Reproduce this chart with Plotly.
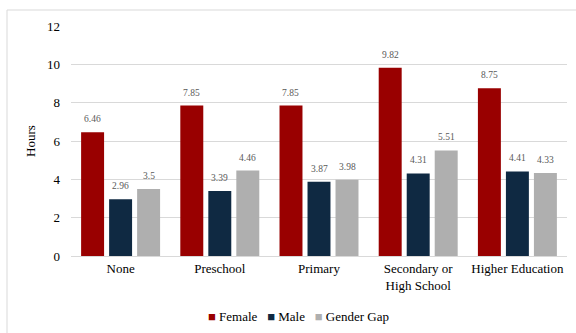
import plotly.graph_objects as go

categories = ["None", "Preschool", "Primary", "Secondary or<br>High School", "Higher Education"]
female = [6.46, 7.85, 7.85, 9.82, 8.75]
male = [2.96, 3.39, 3.87, 4.31, 4.41]
gender_gap = [3.5, 4.46, 3.98, 5.51, 4.33]

series = [
    ("Female", female, "#990000"),
    ("Male", male, "#0f2942"),
    ("Gender Gap", gender_gap, "#afafaf"),
]

FONT = "Times New Roman, Liberation Serif, serif"

W, H = 576, 333
ml, mr, mt, mb = 71, 9, 26, 77
pw, ph = W - ml - mr, H - mt - mb
BARGAP, GROUPGAP = 0.153, 0.18
slot_px = pw / len(categories) * (1 - BARGAP) / len(series)

fig = go.Figure()
annotations = []
for i, (name, vals, color) in enumerate(series):
    fig.add_trace(go.Bar(
        x=categories, y=vals, name=name,
        marker=dict(color=color, line=dict(width=0)),
        showlegend=False,
    ))
    # value labels above each bar
    for cat, v in zip(categories, vals):
        annotations.append(dict(
            x=cat, y=v, xref="x", yref="y", text=f"{v:g}",
            showarrow=False, xanchor="center", yanchor="bottom",
            xshift=(i - 1) * slot_px, yshift=6,
            font=dict(family=FONT, size=9.5, color="#595959"),
        ))

# compact legend row: coloured squares followed by series names
legend_text = "&nbsp;&nbsp;&nbsp;".join(
    f"<span style='color:{color}'>■</span>&nbsp;{name}" for name, _, color in series
)
annotations.append(dict(
    text=legend_text, xref="paper", yref="paper",
    x=(298 - ml) / pw, y=-(316 - (H - mb)) / ph,
    xanchor="center", yanchor="middle", showarrow=False,
    font=dict(family=FONT, size=13, color="#000000"),
))

fig.update_layout(
    width=W, height=H,
    margin=dict(l=ml, r=mr, t=mt, b=mb, autoexpand=False),
    paper_bgcolor="white", plot_bgcolor="white",
    barmode="group", bargap=BARGAP, bargroupgap=GROUPGAP,
    font=dict(family=FONT, color="#000000"),
    showlegend=False,
    yaxis=dict(
        range=[0, 12], dtick=2, showgrid=True, gridcolor="#d9d9d9", gridwidth=1,
        zeroline=False, showline=False, ticks="", ticklabelstandoff=10,
        tickfont=dict(family=FONT, size=13, color="#000000"),
        title=dict(text="Hours", font=dict(family=FONT, size=13, color="#000000"), standoff=8),
        automargin=False,
    ),
    xaxis=dict(
        showline=True, linecolor="#d9d9d9", linewidth=1, ticks="",
        tickfont=dict(family=FONT, size=13, color="#000000"),
        automargin=False,
    ),
    annotations=annotations,
    shapes=[
        # outer frame: top and left edges
        dict(type="line", xref="paper", yref="paper",
             x0=(7 - ml) / pw, x1=(W - ml) / pw,
             y0=(H - mb - 10) / ph, y1=(H - mb - 10) / ph,
             line=dict(color="#d9d9d9", width=1)),
        dict(type="line", xref="paper", yref="paper",
             x0=(7 - ml) / pw, x1=(7 - ml) / pw,
             y0=(H - mb - 10) / ph, y1=-mb / ph,
             line=dict(color="#d9d9d9", width=1)),
    ],
)

fig.write_html("out.html")
